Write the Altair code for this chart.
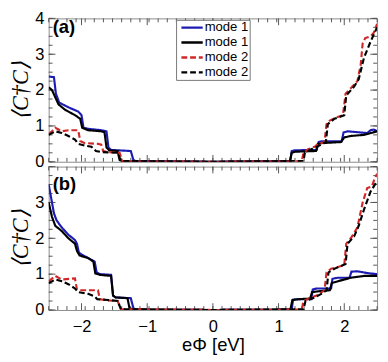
import altair as alt
import pandas as pd
import numpy as np

# ---------------- data ----------------
# panel (a)
a_blue_x = [-2.5, -2.42, -2.39, -2.34, -2.2, -2.05, -2.0, -1.97, -1.9, -1.7, -1.62, -1.59, -1.55, -1.25, -1.21, -1.18, 0.0,
            1.18, 1.2, 1.25, 1.58, 1.61, 1.65, 1.96, 1.99, 2.05, 2.35, 2.4, 2.45, 2.5]
a_blue_y = [2.38, 2.36, 1.9, 1.65, 1.52, 1.4, 1.3, 0.95, 0.92, 0.88, 0.85, 0.4, 0.33, 0.3, 0.05, 0.02, 0.0,
            0.02, 0.3, 0.32, 0.33, 0.55, 0.57, 0.57, 0.82, 0.85, 0.8, 0.88, 0.9, 0.85]
a_black_x = [-2.5, -2.45, -2.4, -2.35, -2.25, -2.1, -2.02, -1.99, -1.9, -1.7, -1.65, -1.62, -1.58, -1.45, -1.42, -1.38, 0.0,
             1.17, 1.2, 1.25, 1.57, 1.6, 1.65, 1.95, 2.0, 2.1, 2.3, 2.4, 2.5]
a_black_y = [2.08, 2.0, 1.8, 1.6, 1.45, 1.3, 1.2, 0.95, 0.88, 0.85, 0.82, 0.4, 0.32, 0.3, 0.05, 0.01, 0.0,
             0.01, 0.25, 0.28, 0.3, 0.5, 0.52, 0.55, 0.68, 0.72, 0.75, 0.8, 0.85]
a_red_x = [-2.5, -2.45, -2.4, -2.35, -2.3, -2.2, -2.05, -2.02, -1.95, -1.75, -1.7, -1.67, -1.6, -1.42, -1.38, -1.35, 0.0,
           1.35, 1.38, 1.45, 1.55, 1.6, 1.7, 1.73, 1.78, 1.9, 1.98, 2.02, 2.1, 2.2, 2.25, 2.28, 2.32, 2.4, 2.45, 2.5]
a_red_y = [0.78, 0.85, 0.95, 0.9, 0.85, 0.88, 0.88, 0.58, 0.52, 0.5, 0.48, 0.3, 0.27, 0.25, 0.03, 0.01, 0.0,
           0.01, 0.25, 0.35, 0.42, 0.5, 0.55, 1.05, 1.15, 1.25, 1.3, 1.9, 2.05, 2.25, 2.7, 3.3, 3.45, 3.5, 3.6, 3.85]
a_kd_x = [-2.5, -2.4, -2.3, -2.2, -2.1, -2.05, -1.95, -1.85, -1.78, -1.7, -1.45, -1.4, 0.0,
          1.38, 1.4, 1.5, 1.62, 1.72, 1.75, 1.85, 2.0, 2.03, 2.15, 2.22, 2.3, 2.4, 2.5]
a_kd_y = [0.75, 0.85, 0.8, 0.72, 0.62, 0.5, 0.45, 0.42, 0.3, 0.27, 0.25, 0.02, 0.0,
          0.02, 0.25, 0.35, 0.45, 0.55, 1.05, 1.2, 1.3, 1.85, 2.1, 2.3, 2.9, 3.35, 3.75]

# panel (b)
b_blue_x = [-2.5, -2.47, -2.42, -2.38, -2.3, -2.2, -2.1, -2.07, -2.04, -2.0, -1.9, -1.8, -1.77, -1.72, -1.55, -1.52, -1.48,
            -1.25, -1.21, -1.18, 0.0, 1.2, 1.22, 1.28, 1.5, 1.52, 1.58, 1.8, 1.82, 1.9, 2.08, 2.11, 2.2, 2.35, 2.5]
b_blue_y = [3.5, 3.2, 2.7, 2.5, 2.3, 2.1, 1.95, 1.85, 1.6, 1.55, 1.45, 1.35, 1.05, 1.0, 0.98, 0.4, 0.35,
            0.33, 0.05, 0.01, 0.0, 0.01, 0.28, 0.3, 0.3, 0.57, 0.6, 0.6, 0.87, 0.9, 0.9, 1.07, 1.08, 1.03, 1.0]
b_black_x = [-2.5, -2.45, -2.4, -2.3, -2.2, -2.1, -2.07, -2.03, -1.9, -1.82, -1.79, -1.72, -1.55, -1.52, -1.48, -1.3,
             -1.27, -1.22, 0.0, 1.18, 1.21, 1.3, 1.48, 1.51, 1.6, 1.78, 1.81, 1.9, 2.0, 2.1, 2.3, 2.5]
b_black_y = [3.0, 2.6, 2.35, 2.2, 2.0, 1.85, 1.65, 1.52, 1.45, 1.35, 1.02, 0.98, 0.95, 0.4, 0.35, 0.33,
             0.05, 0.01, 0.0, 0.01, 0.28, 0.3, 0.32, 0.5, 0.52, 0.55, 0.75, 0.8, 0.85, 0.9, 0.95, 0.95]
b_red_x = [-2.5, -2.4, -2.3, -2.1, -2.07, -2.0, -1.75, -1.72, -1.6, -1.45, -1.4, 0.0,
           1.35, 1.38, 1.5, 1.6, 1.7, 1.73, 1.8, 2.0, 2.03, 2.1, 2.2, 2.28, 2.35, 2.42, 2.46, 2.5]
b_red_y = [0.8, 0.95, 0.85, 0.88, 0.58, 0.55, 0.55, 0.3, 0.27, 0.25, 0.02, 0.0,
           0.01, 0.25, 0.35, 0.42, 0.55, 1.05, 1.15, 1.25, 1.85, 2.0, 2.3, 3.0, 3.4, 3.45, 3.65, 3.8]
b_kd_x = [-2.5, -2.4, -2.3, -2.2, -2.1, -2.05, -1.9, -1.8, -1.76, -1.6, -1.45, -1.4, 0.0,
          1.38, 1.41, 1.55, 1.65, 1.73, 1.76, 1.85, 2.02, 2.05, 2.15, 2.22, 2.3, 2.4, 2.5]
b_kd_y = [0.75, 0.85, 0.8, 0.72, 0.6, 0.5, 0.45, 0.38, 0.3, 0.28, 0.25, 0.02, 0.0,
          0.02, 0.25, 0.35, 0.45, 0.55, 1.05, 1.15, 1.28, 1.85, 2.05, 2.35, 2.8, 3.3, 3.6]

series_keys = ["a_b1", "b_k1", "c_r2", "d_k2"]
series_labels = ["mode 1", "mode 1", "mode 2", "mode 2"]
series_colors = ["#1c1cb4", "#000000", "#d02828", "#000000"]
series_dash = [[1, 0], [1, 0], [6, 3], [6, 3]]

x_major = [-2, -1, 0, 1, 2]
y_major_a = [0, 1, 2, 3, 4]
y_major_b = [0, 1, 2, 3]


def make_df(lists):
    rows = []
    for key, (xs, ys) in zip(series_keys, lists):
        for i, (xv, yv) in enumerate(zip(xs, ys)):
            rows.append({"series": key, "x": xv, "y": yv, "i": i})
    return pd.DataFrame(rows)


df_a = make_df([(a_blue_x, a_blue_y), (a_black_x, a_black_y), (a_red_x, a_red_y), (a_kd_x, a_kd_y)])
df_b = make_df([(b_blue_x, b_blue_y), (b_black_x, b_black_y), (b_red_x, b_red_y), (b_kd_x, b_kd_y)])
legend_df = pd.DataFrame({"series": series_keys, "label": series_labels, "row": list(range(len(series_keys)))})

W, H = 339, 148
xscale = alt.Scale(domain=[-2.5, 2.5], nice=False, zero=False)
yscale = alt.Scale(domain=[0, 4], nice=False, zero=False)
cscale = alt.Scale(domain=series_keys, range=series_colors)
dscale = alt.Scale(domain=series_keys, range=series_dash)
FONT = "Liberation Sans"
FRAME = "#8a8a8a"
TICKC = "#555555"

x_minor = [round(v, 4) for v in np.arange(-2.5, 2.5001, 5 / 36)]
y_minor = [round(v, 4) for v in np.arange(0, 4.0001, 0.25)]
x_tick_sets = [(pd.DataFrame({"x": x_minor}), 4), (pd.DataFrame({"x": x_major}), 7)]
y_tick_sets = [(pd.DataFrame({"y": y_minor}), 4), (pd.DataFrame({"y": [0, 1, 2, 3, 4]}), 7)]

# legend box layout (pixels inside panel a)
LX0, LX1, LY0, LY1 = 132, 208, 2, 64
ROW0, ROWH = 9.5, 15.4
SYM0, SYM1, TXT0 = 137, 159, 161


def axes(show_x, y_vals):
    ax = alt.Axis(orient="bottom", values=x_major, labels=show_x, ticks=False, domain=False,
                  grid=False, labelFontSize=17, labelFont=FONT, labelColor="black",
                  labelPadding=9,
                  title="eΦ [eV]" if show_x else None, titleFontSize=19, titleFont=FONT,
                  titleFontWeight="normal", titleColor="black", titlePadding=2)
    ay = alt.Axis(orient="left", values=y_vals, ticks=False, domain=False, grid=False,
                  labelFontSize=17, labelFont=FONT, labelColor="black", labelPadding=5,
                  title="⟨C†C⟩", titleFontSize=23, titleFont="Liberation Serif",
                  titleFontStyle="italic", titleFontWeight="normal", titleColor="black",
                  titlePadding=2)
    return ax, ay


def legend_layers():
    box = alt.Chart(pd.DataFrame({"k": [0]})).mark_rect(fill="white", stroke="#777777", strokeWidth=1).encode(
        x=alt.value(LX0), x2=alt.value(LX1), y=alt.value(LY0), y2=alt.value(LY1))
    base = alt.Chart(legend_df).transform_calculate(py=f"{ROW0} + {ROWH} * datum.row")
    sym = base.mark_rule(strokeWidth=2.5).encode(
        x=alt.value(SYM0), x2=alt.value(SYM1),
        y=alt.Y("py:Q", scale=None, axis=None),
        color=alt.Color("series:N", scale=cscale, legend=None),
        strokeDash=alt.StrokeDash("series:N", scale=dscale, legend=None),
    )
    lab = base.mark_text(align="left", baseline="middle", fontSize=13.5, font=FONT, color="black").encode(
        x=alt.value(TXT0),
        y=alt.Y("py:Q", scale=None, axis=None),
        text="label:N",
    )
    return [box, sym, lab]


def panel(df, label, label_y, show_x, y_vals, with_legend):
    ax, ay = axes(show_x, y_vals)
    lines = alt.Chart(df).mark_line(strokeWidth=2.2, clip=True).encode(
        x=alt.X("x:Q", scale=xscale, axis=ax),
        y=alt.Y("y:Q", scale=yscale, axis=ay),
        color=alt.Color("series:N", scale=cscale, legend=None),
        strokeDash=alt.StrokeDash("series:N", scale=dscale, legend=None),
        order=alt.Order("i:Q"),
    )
    ticks = []
    for tdf, ln in x_tick_sets:
        for y0, y1 in [(0, ln), (H, H - ln)]:
            ticks.append(alt.Chart(tdf).mark_rule(color=TICKC, strokeWidth=1).encode(
                x=alt.X("x:Q", scale=xscale, axis=ax),
                y=alt.value(y0), y2=alt.value(y1),
            ))
    for tdf, ln in y_tick_sets:
        for x0, x1 in [(0, ln), (W, W - ln)]:
            ticks.append(alt.Chart(tdf).mark_rule(color=TICKC, strokeWidth=1).encode(
                y=alt.Y("y:Q", scale=yscale, axis=ay),
                x=alt.value(x0), x2=alt.value(x1),
            ))
    txt = alt.Chart(pd.DataFrame({"x": [-2.44], "y": [label_y], "t": [label]})).mark_text(
        align="left", baseline="middle", fontSize=19, fontWeight="bold", font=FONT, color="black"
    ).encode(
        x=alt.X("x:Q", scale=xscale, axis=ax),
        y=alt.Y("y:Q", scale=yscale, axis=ay),
        text="t:N",
    )
    layers = ticks + [lines, txt]
    if with_legend:
        layers += legend_layers()
    return alt.layer(*layers).properties(width=W, height=H)


pa = panel(df_a, "(a)", 3.75, False, y_major_a, True)
pb = panel(df_b, "(b)", 3.5, True, y_major_b, False)

chart = alt.vconcat(pa, pb, spacing=5, bounds="flush").configure_view(stroke=FRAME, strokeWidth=1).properties(
    padding={"left": 2, "top": -5, "right": 2, "bottom": 2}
)

chart.save("out.html", embed_options={"renderer": "svg", "actions": False})
